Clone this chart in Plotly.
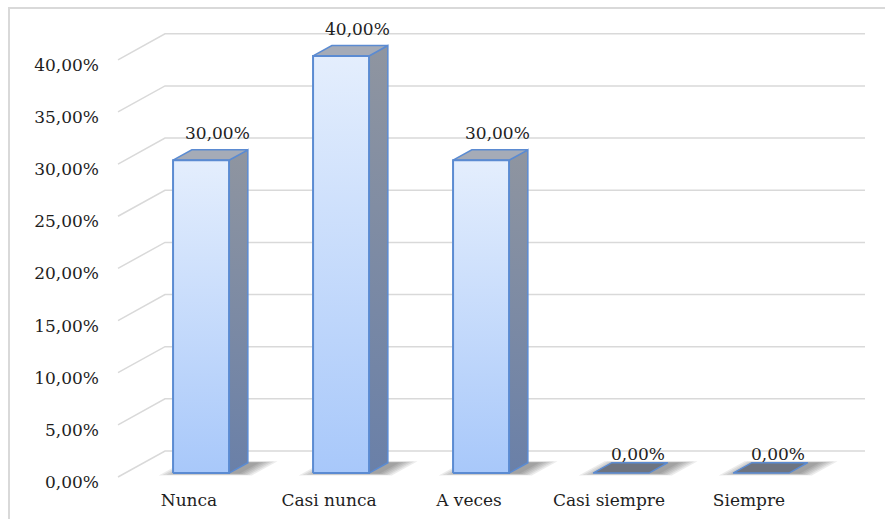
import plotly.graph_objects as go

# ---- data -------------------------------------------------------------
categories = ["Nunca", "Casi nunca", "A veces", "Casi siempre", "Siempre"]
percentages = [30.0, 40.0, 30.0, 0.0, 0.0]
tick_values = [0, 5, 10, 15, 20, 25, 30, 35, 40]
tick_labels = ["0,00%", "5,00%", "10,00%", "15,00%", "20,00%",
               "25,00%", "30,00%", "35,00%", "40,00%"]
value_labels = [f"{v:.2f}".replace(".", ",") + "%" for v in percentages]

# ---- pseudo-3D geometry (in axis units) --------------------------------
PX_PER_CAT = 140.0          # horizontal pixels per category step
PX_PER_PCT = 10.43          # vertical pixels per percentage point
DEPTH_DX = 47.0 / PX_PER_CAT    # full floor depth, horizontal component
DEPTH_DY = 26.0 / PX_PER_PCT    # full floor depth, vertical component
D_FRONT, D_BACK = 0.15, 0.55    # bar depth span inside the floor
HALF_W = 0.20                   # half bar width (category units)

X_MIN, X_MAX = -0.6, 691.0 / PX_PER_CAT
Y_MIN, Y_MAX = -3.0 / PX_PER_PCT, 477.0 / PX_PER_PCT
GRID_X0 = -76.0 / PX_PER_CAT    # front end of the wall grid lines
GRID_X1 = 671.0 / PX_PER_CAT    # right end of the back wall

FONT = "DejaVu Serif"
FONT_SIZE = 17
TEXT = "#1E1E1E"
GRID = "#D9D9D9"
EDGE = "#5B8BD2"

fig = go.Figure()

# perspective grid lines: short floor diagonal + back-wall horizontal
gx, gy = [], []
for tv in tick_values:
    gx += [GRID_X0, GRID_X0 + DEPTH_DX, GRID_X1, None]
    gy += [tv, tv + DEPTH_DY, tv + DEPTH_DY, None]
fig.add_trace(go.Scatter(x=gx, y=gy, mode="lines",
                         line=dict(color=GRID, width=1.5),
                         hoverinfo="skip", showlegend=False))


def pt(i, side, depth, level):
    """Point of the bar box for category i."""
    return (i + side * HALF_W + depth * DEPTH_DX, level + depth * DEPTH_DY)


def poly(points):
    xs = [p[0] for p in points] + [points[0][0]]
    ys = [p[1] for p in points] + [points[0][1]]
    return xs, ys


# soft floor shadows (stacked translucent footprints)
for i, v in enumerate(percentages):
    for k in range(1, 7):
        ex = 0.022 * k
        ed = 0.05 * k
        df = D_FRONT - ed * 0.3
        db = D_BACK + ed * 0.2
        pts = [
            (i - HALF_W - ex + 0.06 + df * DEPTH_DX, df * DEPTH_DY),
            (i + HALF_W + ex + 0.06 + df * DEPTH_DX, df * DEPTH_DY),
            (i + HALF_W + ex + 0.06 + db * DEPTH_DX, db * DEPTH_DY),
            (i - HALF_W - ex + 0.06 + db * DEPTH_DX, db * DEPTH_DY),
        ]
        xs, ys = poly(pts)
        fig.add_trace(go.Scatter(x=xs, y=ys, mode="lines", fill="toself",
                                 fillcolor="rgba(40,40,40,0.09)",
                                 line=dict(width=0), hoverinfo="skip",
                                 showlegend=False))

# bars
for i, v in enumerate(percentages):
    if v > 0:
        # right side face
        xs, ys = poly([pt(i, 1, D_FRONT, 0), pt(i, 1, D_BACK, 0),
                       pt(i, 1, D_BACK, v), pt(i, 1, D_FRONT, v)])
        fig.add_trace(go.Scatter(
            x=xs, y=ys, mode="lines", fill="toself",
            fillgradient=dict(type="vertical",
                              colorscale=[[0, "#6A80A8"], [1, "#8F95A0"]]),
            line=dict(color=EDGE, width=1.5), hoverinfo="skip",
            showlegend=False))
        # top face
        xs, ys = poly([pt(i, -1, D_FRONT, v), pt(i, 1, D_FRONT, v),
                       pt(i, 1, D_BACK, v), pt(i, -1, D_BACK, v)])
        fig.add_trace(go.Scatter(
            x=xs, y=ys, mode="lines", fill="toself", fillcolor="#A5ABB7",
            line=dict(color=EDGE, width=1.5), hoverinfo="skip",
            showlegend=False))
        # front face
        xs, ys = poly([pt(i, -1, D_FRONT, 0), pt(i, 1, D_FRONT, 0),
                       pt(i, 1, D_FRONT, v), pt(i, -1, D_FRONT, v)])
        fig.add_trace(go.Scatter(
            x=xs, y=ys, mode="lines", fill="toself",
            fillgradient=dict(type="vertical",
                              colorscale=[[0, "#A8C8FA"], [1, "#E4EEFD"]]),
            line=dict(color=EDGE, width=2), hoverinfo="skip",
            showlegend=False))
    else:
        # flat bar: only the lid is visible
        xs, ys = poly([pt(i, -1, D_FRONT, v), pt(i, 1, D_FRONT, v),
                       pt(i, 1, D_BACK, v), pt(i, -1, D_BACK, v)])
        fig.add_trace(go.Scatter(
            x=xs, y=ys, mode="lines", fill="toself", fillcolor="#6E7480",
            line=dict(color=EDGE, width=1.5), hoverinfo="skip",
            showlegend=False))

# value labels above each bar
for i, (v, lab) in enumerate(zip(percentages, value_labels)):
    fig.add_annotation(x=i + 0.5 * DEPTH_DX, y=v + D_BACK * DEPTH_DY,
                       text=lab, showarrow=False, yanchor="bottom",
                       yshift=5 if v > 0 else -3,
                       font=dict(family=FONT, size=FONT_SIZE, color=TEXT))

# chart-area frame
PLOT_L, PLOT_W, PLOT_H = 110, 775, 480
fig.add_shape(type="rect", xref="paper", yref="paper",
              x0=(9 - PLOT_L) / PLOT_W, x1=(900 - PLOT_L) / PLOT_W,
              y0=1 - 530 / PLOT_H, y1=1 - 8 / PLOT_H,
              line=dict(color=GRID, width=2), layer="below")

fig.update_layout(
    width=885, height=519,
    margin=dict(l=PLOT_L, r=0, t=0, b=519 - PLOT_H),
    paper_bgcolor="white", plot_bgcolor="white",
    font=dict(family=FONT, size=FONT_SIZE, color=TEXT),
    xaxis=dict(range=[X_MIN, X_MAX], tickvals=list(range(len(categories))),
               ticktext=categories, showgrid=False, zeroline=False,
               showline=False, ticks="", ticklabelstandoff=8,
               ticklabelshift=-5, fixedrange=True),
    yaxis=dict(range=[Y_MIN, Y_MAX], tickvals=tick_values,
               ticktext=tick_labels, showgrid=False, zeroline=False,
               showline=False, ticks="", ticklabelstandoff=10,
               ticklabelshift=5, fixedrange=True),
)

fig.write_html("out.html")
